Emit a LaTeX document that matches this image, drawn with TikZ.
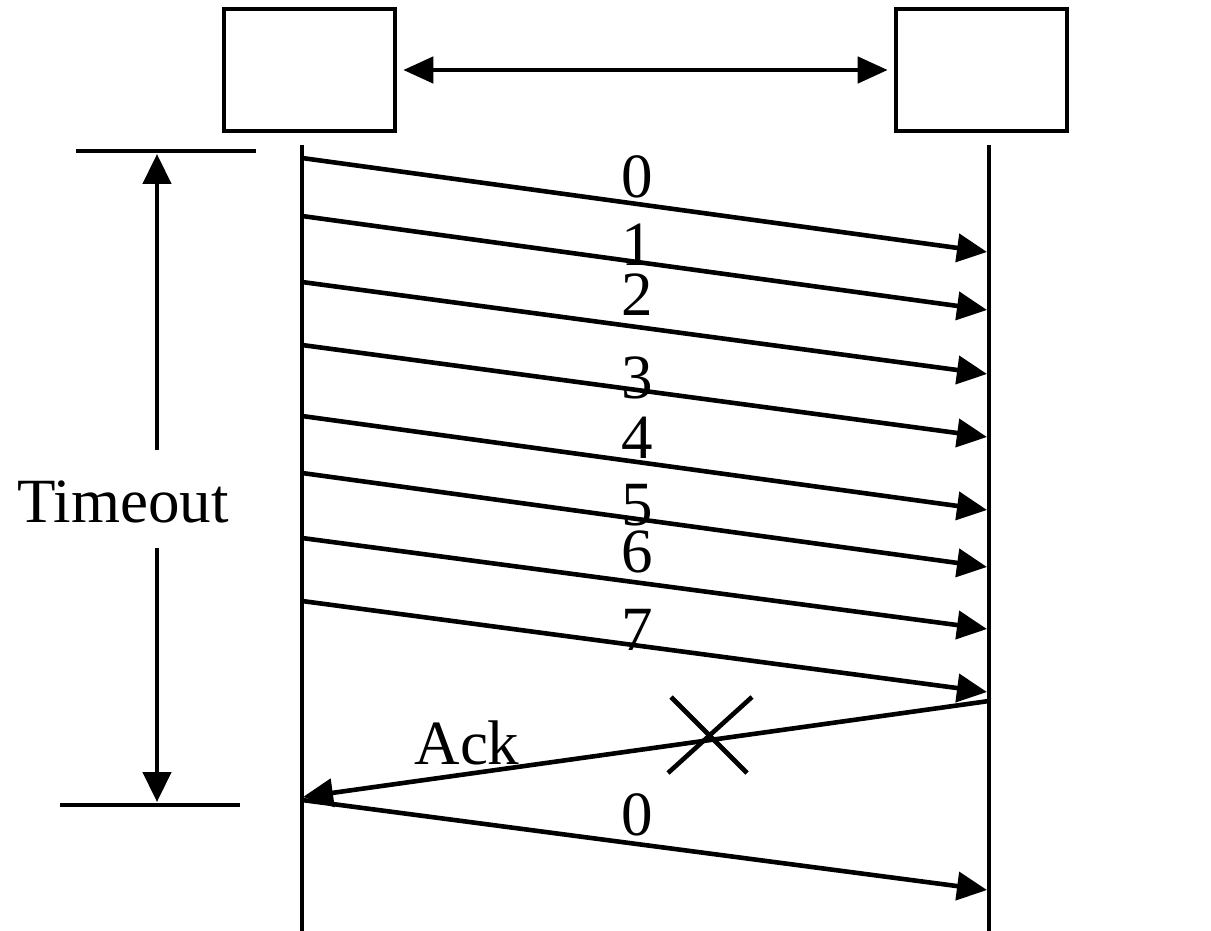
\documentclass[tikz,border=0pt]{standalone}
\usepackage{fontspec}
\setmainfont{Liberation Serif}
\usetikzlibrary{arrows.meta}
\begin{document}
\begin{tikzpicture}[x=1pt,y=-1pt,
  line width=4.6pt,
  tip/.style={-{Triangle[length=30pt,width=28pt]}},
  dtip/.style={{Triangle[length=30pt,width=26pt]}-{Triangle[length=30pt,width=26pt]}},
  entity/.style={draw,minimum width=171pt,minimum height=122pt,inner sep=0pt},
  lbl/.style={inner sep=0pt,font=\fontsize{63}{63}\selectfont}]
\useasboundingbox (0,0) rectangle (1211,931);
% entities
\node[entity] (A) at (309.5,70) {};
\node[entity] (B) at (981.5,70) {};
\draw[dtip,shorten <=6pt,shorten >=6pt] (A.east) -- (B.west);
% lifelines
\coordinate (Lt) at (302,145); \coordinate (Lb) at (302,931);
\coordinate (Rt) at (989,145); \coordinate (Rb) at (989,931);
\draw (Lt) -- (Lb);
\draw (Rt) -- (Rb);
% messages
\foreach \i/\ys/\ye/\ly in {0/158/252/177, 1/216/310/245, 2/282/374/295, 3/345/437/378, 4/416/510/438, 5/473/567/505, 6/538/629/552, 7/601/692/630}{
  \coordinate (s\i) at (302,\ys);
  \coordinate (e\i) at (987,\ye);
  \draw[tip] (s\i) -- (e\i);
  \node[lbl] (m\i) at (637,\ly) {\i};
}
% ack
\coordinate (as) at (989,701);
\coordinate (ae) at (303,797);
\draw[tip] (as) -- (ae);
\node[lbl] (ack) at (467,743) {Ack};
% lost mark
\coordinate (x1) at (671,697); \coordinate (x2) at (747,773);
\coordinate (x3) at (752,697); \coordinate (x4) at (668,773);
\draw (x1) -- (x2);
\draw (x3) -- (x4);
% retransmission
\coordinate (r0s) at (302,800);
\coordinate (r0e) at (987,890);
\draw[tip] (r0s) -- (r0e);
\node[lbl] (r0) at (637,815) {0};
% timeout
\coordinate (t1) at (76,151); \coordinate (t2) at (256,151);
\coordinate (b1) at (60,805); \coordinate (b2) at (240,805);
\draw (t1) -- (t2);
\draw (b1) -- (b2);
\node[lbl] (T) at (123,502) {Timeout};
\coordinate (tu) at (157,450); \coordinate (tut) at (157,154);
\coordinate (td) at (157,548); \coordinate (tdt) at (157,802);
\draw[tip] (tu) -- (tut);
\draw[tip] (td) -- (tdt);
\end{tikzpicture}
\end{document}
